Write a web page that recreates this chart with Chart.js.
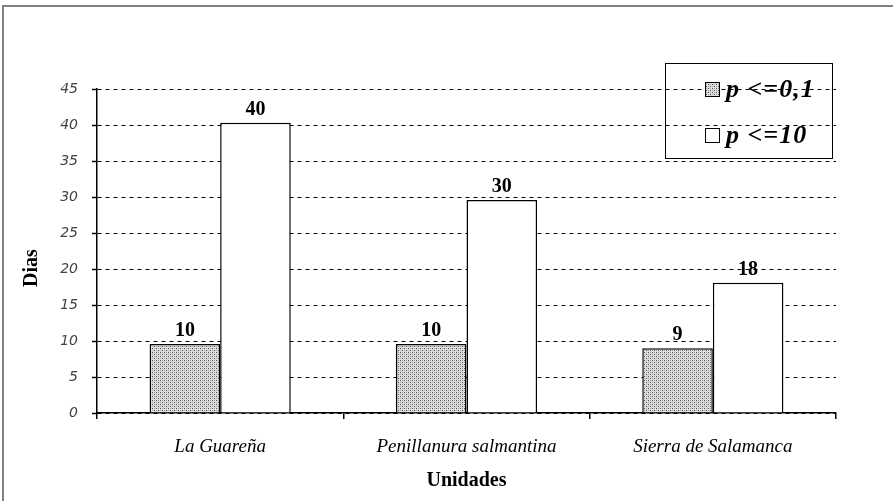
<!DOCTYPE html>
<html>
<head>
<meta charset="utf-8">
<script src="https://cdn.jsdelivr.net/npm/chart.js@4.4.1/dist/chart.umd.min.js"></script>
<style>
  html, body { margin: 0; padding: 0; background: #fff; }
  #wrap { width: 893px; height: 501px; position: relative; }
</style>
</head>
<body>
<div id="wrap"><canvas id="chart" width="893" height="501"></canvas></div>
<script>
const categories = ['La Guareña', 'Penillanura salmantina', 'Sierra de Salamanca'];
const seriesNames = ['p <=0,1', 'p <=10'];
const lowValues = [9.6, 9.6, 9.0];
const highValues = [40.3, 29.6, 18.1];
const lowLabels = ['10', '10', '9'];
const highLabels = ['40', '30', '18'];
const yTicks = [0, 5, 10, 15, 20, 25, 30, 35, 40, 45];

function makePattern() {
  const c = document.createElement('canvas');
  c.width = 4; c.height = 4;
  const g = c.getContext('2d');
  g.fillStyle = '#dcdcdc';
  g.fillRect(0, 0, 4, 4);
  g.fillStyle = '#555';
  g.fillRect(0, 0, 1, 1);
  g.fillRect(2, 2, 1, 1);
  g.fillStyle = '#aaa';
  g.fillRect(2, 0, 1, 1);
  g.fillRect(0, 2, 1, 1);
  return g.createPattern(c, 'repeat');
}
const dots = makePattern();

const extras = {
  id: 'extras',
  beforeDraw(chart) {
    const ctx = chart.ctx;
    ctx.save();
    ctx.fillStyle = '#fff';
    ctx.fillRect(0, 0, chart.width, chart.height);
    ctx.strokeStyle = '#808080';
    ctx.lineWidth = 2;
    ctx.beginPath();
    ctx.moveTo(3, chart.height);
    ctx.lineTo(3, 6);
    ctx.lineTo(chart.width, 6);
    ctx.stroke();
    ctx.restore();
  },
  afterDraw(chart) {
    const ctx = chart.ctx;
    const area = chart.chartArea;
    ctx.save();
    ctx.fillStyle = '#000';
    // value labels
    ctx.font = 'bold 20px "Liberation Serif", serif';
    ctx.textAlign = 'center';
    ctx.textBaseline = 'alphabetic';
    [lowLabels, highLabels].forEach((labels, di) => {
      chart.getDatasetMeta(di).data.forEach((bar, i) => {
        ctx.fillText(labels[i], bar.x, bar.y - 8);
      });
    });
    // axis titles
    ctx.font = 'bold 20px "Liberation Serif", serif';
    ctx.textBaseline = 'middle';
    ctx.fillText('Unidades', (area.left + area.right) / 2, 481);
    ctx.save();
    ctx.translate(32, 268);
    ctx.rotate(-Math.PI / 2);
    ctx.fillText('Dias', 0, 0);
    ctx.restore();
    // legend
    ctx.lineWidth = 1;
    ctx.strokeStyle = '#000';
    ctx.strokeRect(665.5, 63.5, 167, 95);
    ctx.font = 'italic bold 26px "Liberation Serif", serif';
    ctx.letterSpacing = '1px';
    ctx.textAlign = 'left';
    const fills = [dots, '#fff'];
    [89, 135].forEach((cy, i) => {
      ctx.fillStyle = fills[i];
      ctx.fillRect(705, cy - 7, 14, 14);
      ctx.strokeRect(705.5, cy - 6.5, 14, 14);
      ctx.fillStyle = '#000';
      ctx.fillText(seriesNames[i], 726, cy + 1);
    });
    ctx.restore();
  }
};

new Chart(document.getElementById('chart'), {
  type: 'bar',
  data: {
    labels: categories,
    datasets: [
      { label: seriesNames[0], data: lowValues, backgroundColor: dots, borderColor: '#000', borderWidth: 1.5 },
      { label: seriesNames[1], data: highValues, backgroundColor: '#fff', borderColor: '#000', borderWidth: 1.5 }
    ]
  },
  options: {
    responsive: false,
    animation: false,
    layout: { padding: { top: 89, right: 57, left: 0, bottom: 0 } },
    datasets: { bar: { categoryPercentage: 0.573, barPercentage: 1, borderSkipped: 'bottom' } },
    plugins: { legend: { display: false }, tooltip: { enabled: false } },
    scales: {
      x: {
        afterFit(s) { s.height = 88; },
        grid: { drawOnChartArea: false, drawTicks: true, tickLength: 6, color: '#000', lineWidth: 1.5 },
        border: { color: '#000', width: 1.5 },
        ticks: { color: '#000', padding: 17, font: { family: '"Liberation Serif", serif', style: 'italic', size: 19 } }
      },
      y: {
        min: 0, max: 45,
        afterFit(s) { s.width = 97; },
        afterBuildTicks(s) { s.ticks = yTicks.map(v => ({ value: v })); },
        grid: { color: '#000', lineWidth: 1, tickLength: 5, tickColor: '#000', tickWidth: 1.5 },
        border: { color: '#000', width: 1.5, dash: [4, 4] },
        ticks: { color: '#444', padding: 14, font: { family: '"DejaVu Sans", sans-serif', style: 'italic', size: 14 } }
      }
    }
  },
  plugins: [extras]
});
</script>
</body>
</html>
